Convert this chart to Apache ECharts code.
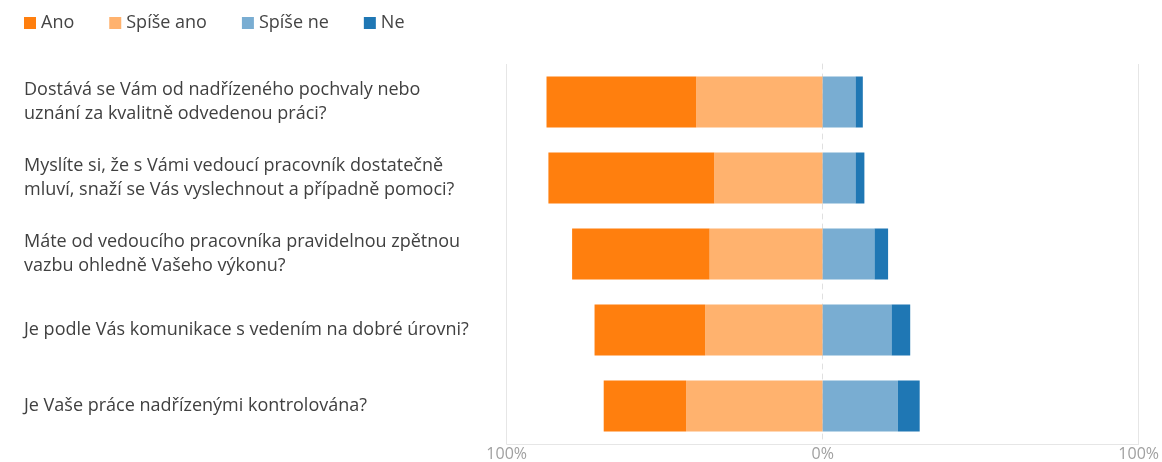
<!DOCTYPE html>
<html>
<head>
<meta charset="utf-8">
<script src="https://cdn.jsdelivr.net/npm/echarts@6/dist/echarts.min.js"></script>
<style>
html,body{margin:0;padding:0;background:#fff;}
#chart{width:1162px;height:462px;}
</style>
</head>
<body>
<div id="chart"></div>
<script>
var categories = [
  "Dostává se Vám od nadřízeného pochvaly nebo\nuznání za kvalitně odvedenou práci?",
  "Myslíte si, že s Vámi vedoucí pracovník dostatečně\nmluví, snaží se Vás vyslechnout a případně pomoci?",
  "Máte od vedoucího pracovníka pravidelnou zpětnou\nvazbu ohledně Vašeho výkonu?",
  "Je podle Vás komunikace s vedením na dobré úrovni?",
  "Je Vaše práce nadřízenými kontrolována?"
];
var seriesNames = ["Ano", "Spíše ano", "Spíše ne", "Ne"];
var ano      = [47.4, 52.5, 43.5, 35.0, 26.1];
var spiseAno = [40.0, 34.3, 35.8, 37.2, 43.2];
var spiseNe  = [10.4, 10.4, 16.4, 21.8, 23.8];
var ne       = [ 2.3,  2.8,  4.3,  5.9,  6.9];
var xTicks = [-100, 0, 100];

var colors = {
  "Ano": "#ff7f0e",
  "Spíše ano": "#ffb26e",
  "Spíše ne": "#79add2",
  "Ne": "#1f77b4"
};
var FONT = "'Open Sans', 'Noto Sans', sans-serif";

function neg(a){ return a.map(function(v){ return -v; }); }

var chart = echarts.init(document.getElementById('chart'), null, {renderer:'canvas'});
var option = {
  animation: false,
  textStyle: {fontFamily: FONT},
  legend: {
    data: seriesNames,
    left: 19, top: 9,
    icon: 'rect',
    itemWidth: 12, itemHeight: 12,
    itemGap: 35,
    textStyle: {fontSize: 18, color: '#444', fontFamily: FONT}
  },
  grid: {left: 506.7, right: 21.3, top: 64, bottom: 17},
  xAxis: [{
    type: 'value',
    min: xTicks[0], max: xTicks[2], interval: 200,
    axisLine: {show: true, lineStyle: {color: '#e6e6e6', width: 1}},
    axisTick: {show: false},
    splitLine: {show: true, lineStyle: {color: '#e6e6e6', width: 1}},
    axisLabel: {show: false}
  }, {
    type: 'value',
    position: 'bottom',
    min: xTicks[0], max: xTicks[2], interval: 100,
    axisLine: {show: false},
    axisTick: {show: false},
    splitLine: {show: false},
    axisLabel: {
      margin: 2,
      fontSize: 16,
      color: '#a0a0a0',
      fontFamily: FONT,
      formatter: function(v){ return Math.abs(v) + '%'; }
    }
  }],
  yAxis: [{
    type: 'category',
    data: categories,
    inverse: true,
    axisLine: {show: false},
    axisTick: {show: false},
    axisLabel: {
      align: 'left',
      margin: 482.7,
      fontSize: 18,
      lineHeight: 24,
      color: '#404040',
      fontFamily: FONT
    }
  }, {
    type: 'category',
    data: categories,
    inverse: true,
    position: 'left',
    axisLine: {show: true, onZero: true, lineStyle: {color: '#e0e0e0', type: [5, 5], width: 1}},
    axisTick: {show: false},
    axisLabel: {show: false},
    splitLine: {show: false}
  }],
  series: []
};

function mk(name, data){
  return {
    name: name,
    type: 'bar',
    stack: 'total',
    barWidth: 51,
    xAxisIndex: 0,
    yAxisIndex: 0,
    itemStyle: {color: colors[name]},
    data: data,
    z: 3
  };
}
option.series = [
  mk("Spíše ano", neg(spiseAno)),
  mk("Ano", neg(ano)),
  mk("Spíše ne", spiseNe),
  mk("Ne", ne)
];
chart.setOption(option);
</script>
</body>
</html>
